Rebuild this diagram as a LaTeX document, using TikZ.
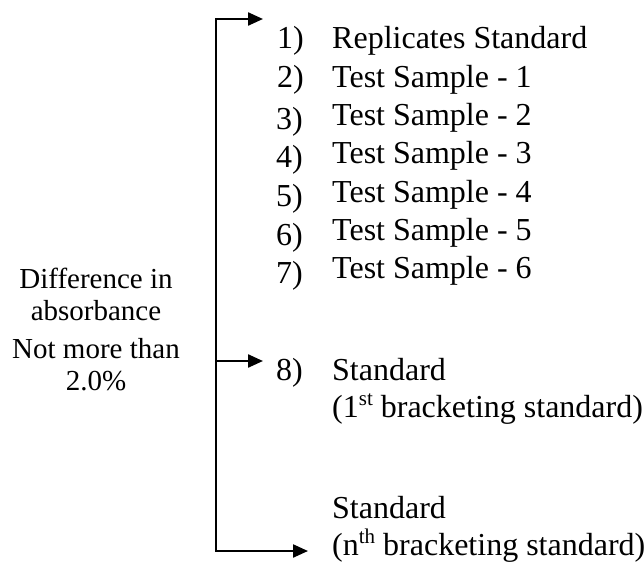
\documentclass[tikz,border=0pt]{standalone}
\usepackage{fontspec}
\setmainfont{Liberation Serif}
\usetikzlibrary{arrows.meta}
\newcommand{\supx}[1]{\raisebox{0.36em}{\fontsize{21}{21}\selectfont #1}}
\tikzstyle{num} = [anchor=base west, inner sep=0pt, font=\fontsize{32}{38}\selectfont]
\tikzstyle{item} = [anchor=base west, inner sep=0pt, font=\fontsize{32}{38}\selectfont]
\tikzstyle{note} = [anchor=base, inner sep=0pt, font=\fontsize{29}{34}\selectfont]
\tikzstyle{bar} = [line width=1.8pt, line cap=rect]
\tikzstyle{arrow} = [line width=2.3pt,-{Triangle[length=15pt,width=13pt]}]

\begin{document}
\begin{tikzpicture}[x=1pt,y=-1pt]
    \useasboundingbox (0,0) rectangle (644,562);
    \coordinate (top) at (216,19);
    \coordinate (mid) at (216,361);
    \coordinate (bot) at (216,551);
    \coordinate (topend) at (263,19);
    \coordinate (midend) at (263,361);
    \coordinate (botend) at (308,551);
    \node (n1)[num] at (277,48){1)};
    \node (t1)[item] at (332,48){Replicates Standard};
    \node (n2)[num] at (277,87){2)};
    \node (t2)[item] at (332,87){Test Sample - 1};
    \node (n3)[num] at (276,129){3)};
    \node (t3)[item] at (332,125){Test Sample - 2};
    \node (n4)[num] at (276,167){4)};
    \node (t4)[item] at (332,163){Test Sample - 3};
    \node (n5)[num] at (276,206){5)};
    \node (t5)[item] at (332,202){Test Sample - 4};
    \node (n6)[num] at (276,245){6)};
    \node (t6)[item] at (332,240){Test Sample - 5};
    \node (n7)[num] at (276,283){7)};
    \node (t7)[item] at (332,278){Test Sample - 6};
    \node (n8)[num] at (276,380){8)};
    \node (s8)[item] at (332,380){Standard};
    \node (b8)[item] at (332,417){(1\supx{st} bracketing standard)};
    \node (sn)[item] at (332,518){Standard};
    \node (bn)[item] at (332,555){(n\supx{th} bracketing standard)};
    \node (d1)[note] at (96,288){Difference in};
    \node (d2)[note] at (96,320){absorbance};
    \node (d3)[note] at (96,358){Not more than};
    \node (d4)[note] at (96,390){2.0\%};
    \draw [bar] (top)--(bot);
    \draw [arrow] (top)--(topend);
    \draw [arrow] (mid)--(midend);
    \draw [arrow] (bot)--(botend);
  \end{tikzpicture}
\end{document}
